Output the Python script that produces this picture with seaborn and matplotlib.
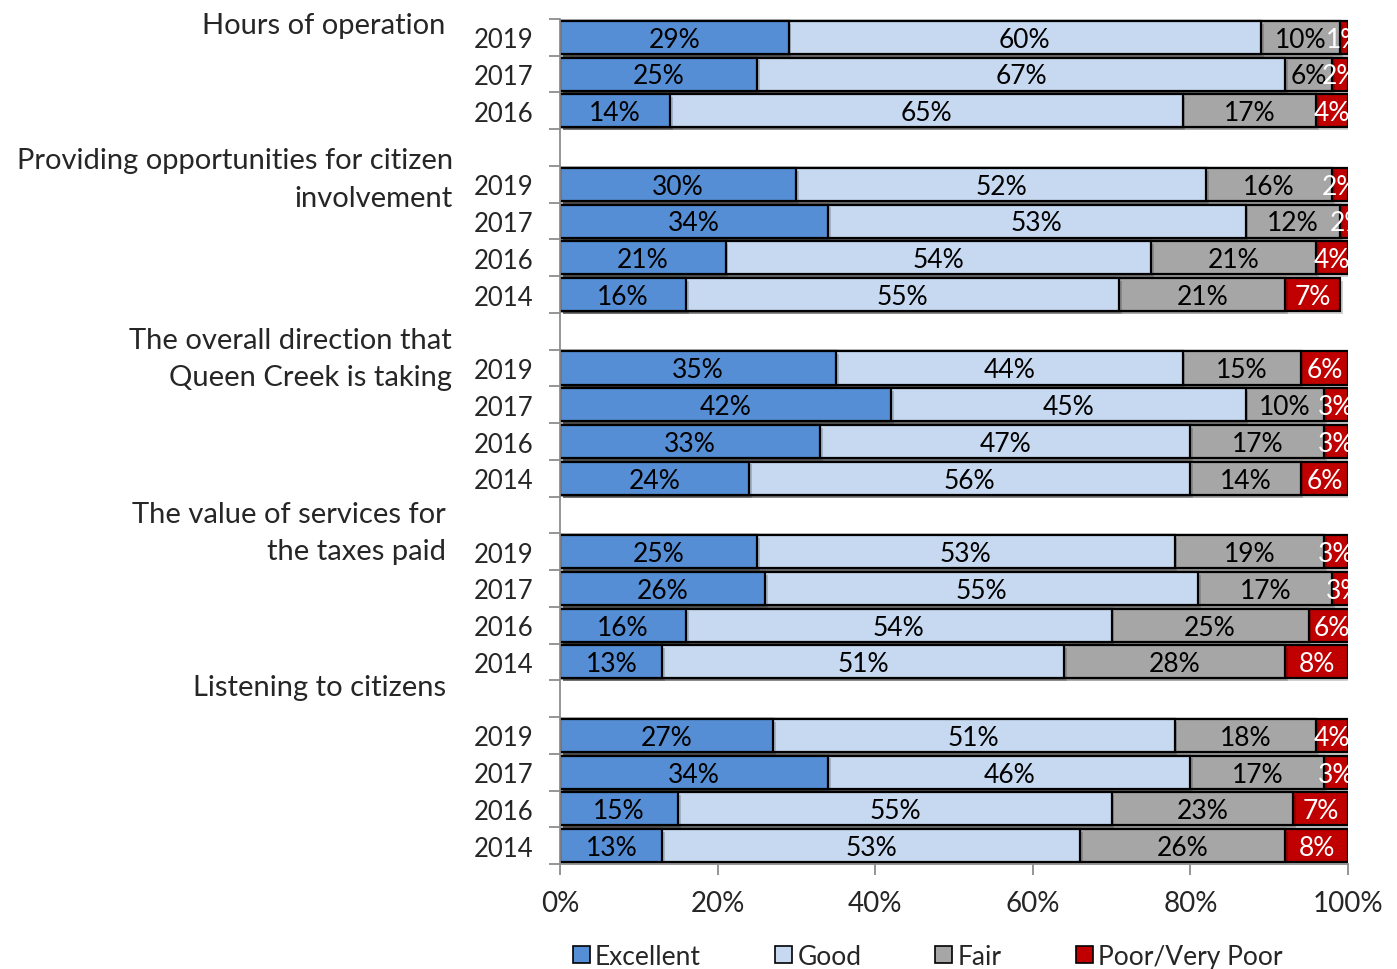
import numpy as np
import pandas as pd
import matplotlib
matplotlib.use("Agg")
import matplotlib.pyplot as plt
import matplotlib.patheffects as pe
from matplotlib.patches import Patch
import seaborn as sns

# ---- data -------------------------------------------------------------
groups = [
    "Hours of operation",
    "Providing opportunities for citizen\ninvolvement",
    "The overall direction that\nQueen Creek is taking",
    "The value of services for\nthe taxes paid",
    "Listening to citizens",
]
group_years = [
    ["2019", "2017", "2016"],
    ["2019", "2017", "2016", "2014"],
    ["2019", "2017", "2016", "2014"],
    ["2019", "2017", "2016", "2014"],
    ["2019", "2017", "2016", "2014"],
]
ratings = ["Excellent", "Good", "Fair", "Poor/Very Poor"]

excellent = [29, 25, 14,  30, 34, 21, 16,  35, 42, 33, 24,  25, 26, 16, 13,  27, 34, 15, 13]
good      = [60, 67, 65,  52, 53, 54, 55,  44, 45, 47, 56,  53, 55, 54, 51,  51, 46, 55, 53]
fair      = [10,  6, 17,  16, 12, 21, 21,  15, 10, 17, 14,  19, 17, 25, 28,  18, 17, 23, 26]
poor      = [ 1,  2,  4,   2,  2,  4,  7,   6,  3,  3,  6,   3,  3,  6,  8,   4,  3,  7,  8]

# ---- styling ----------------------------------------------------------
colors = ["#558ED5", "#C6D9F1", "#A6A6A6", "#C00000"]
text_colors = ["black", "black", "black", "white"]
axis_grey = "#8C8C8C"
group_label_y = [-0.33, 3.85, 8.74, 13.48, 17.67]
group_label_x = [-0.145, -0.136, -0.137, -0.145, -0.145]

sns.set_theme(style="white")
plt.rcParams["font.family"] = ["Lato", "DejaVu Sans"]

# one row per (group, year), plus an empty spacer slot between groups
rows, order, year_tick = [], [], []
k = 0
for gi, years in enumerate(group_years):
    if gi > 0:
        order.append(f"gap{gi}")
        year_tick.append("")
    for yr in years:
        key = f"g{gi}_{yr}"
        order.append(key)
        year_tick.append(yr)
        vals = [excellent[k], good[k], fair[k], poor[k]]
        left = 0
        for r, v in zip(ratings, vals):
            rows.append(dict(row=key, rating=r, value=v, left=left, right=left + v))
            left += v
        k += 1
df = pd.DataFrame(rows)

fig = plt.figure(figsize=(13.97, 9.70), dpi=100)
ax = fig.add_axes([0.4009, 0.1082, 0.5640, 0.8712])

# stacked bars: draw cumulative totals from the outermost segment inward
shadow = [pe.SimplePatchShadow(offset=(2, -2), alpha=0.18, shadow_rgbFace="black"), pe.Normal()]
for ri in reversed(range(len(ratings))):
    sub = df[df["rating"] == ratings[ri]]
    sns.barplot(data=sub, x="right", y="row", order=order, orient="h",
                color=colors[ri], saturation=1, width=0.9,
                edgecolor="black", linewidth=1.6, ax=ax)

for p in ax.patches:
    p.set_path_effects(shadow)

# segment value labels
pos = {key: i for i, key in enumerate(order)}
for _, r in df.iterrows():
    ri = ratings.index(r["rating"])
    ax.text(r["left"] + r["value"] / 2, pos[r["row"]] + 0.05, f"{r['value']}%",
            ha="center", va="center", fontsize=19, color=text_colors[ri], clip_on=True)

ax.set_xlim(0, 100)
ax.set_ylim(len(order) - 0.5, -0.5)
ax.set_xlabel("")
ax.set_ylabel("")

ax.set_xticks(np.arange(0, 101, 20))
ax.set_xticklabels([f"{v}%" for v in range(0, 101, 20)], fontsize=20)
ax.tick_params(axis="x", length=8, width=1.3, color=axis_grey, pad=11, direction="out", bottom=True)

ax.set_yticks(np.arange(len(order)))
ax.set_yticklabels(year_tick, fontsize=18.5)
ax.tick_params(axis="y", which="major", length=0, pad=19)
ax.set_yticks(np.arange(-0.5, len(order), 1), minor=True)
ax.tick_params(axis="y", which="minor", length=8, width=1.3, color=axis_grey, direction="out", left=True)

for s in ["top", "right"]:
    ax.spines[s].set_visible(False)
for s in ["left", "bottom"]:
    ax.spines[s].set_color(axis_grey)
    ax.spines[s].set_linewidth(1.3)

# category group labels
for g, gx, gy in zip(groups, group_label_x, group_label_y):
    ax.text(gx, gy, g, transform=ax.get_yaxis_transform(), ha="right", va="center",
            fontsize=21, linespacing=1.55)

handles = [Patch(facecolor=c, edgecolor="black", linewidth=1.2) for c in colors]
fig.legend(handles, ratings, loc="center", bbox_to_anchor=(0.664, 0.013), ncol=4,
           frameon=False, fontsize=19, handlelength=0.65, handleheight=0.65,
           handletextpad=0.2, columnspacing=2.8)

fig.savefig("out.png", dpi=100)
